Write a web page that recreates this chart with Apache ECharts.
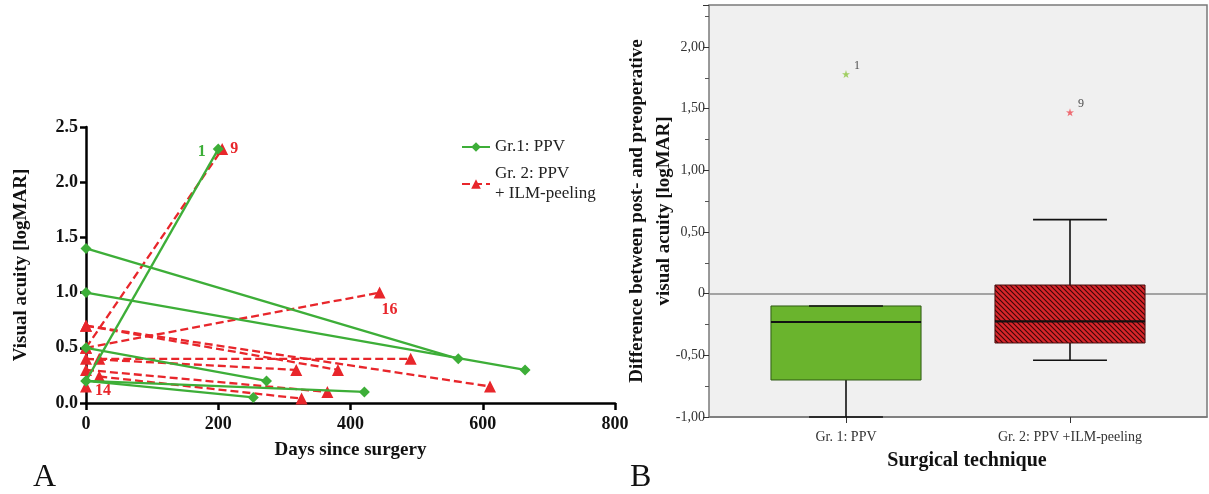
<!DOCTYPE html>
<html>
<head>
<meta charset="utf-8">
<title>Visual acuity after surgery</title>
<script src="https://cdn.jsdelivr.net/npm/echarts@6/dist/echarts.min.js"></script>
<style>
  html, body { margin: 0; padding: 0; background: #fff; }
  #chart { width: 1209px; height: 494px; }
</style>
</head>
<body>
<div id="chart"></div>
<script>
// Panel A: per eye, [days] and [logMAR] at first and last visit
const ppvDays = [[0, 200], [0, 563], [0, 664], [0, 273], [0, 421], [0, 253]]
const ppvAcuity = [[0.2, 2.3], [1.4, 0.4], [1.0, 0.3], [0.5, 0.2], [0.2, 0.1], [0.2, 0.05]]
const ppvCase = ['1', '', '', '', '', '']

const ilmDays = [[0, 206], [0, 444], [0, 611], [0, 381], [20, 491], [0, 318], [0, 365], [20, 326], [0]]
const ilmAcuity = [[0.5, 2.3], [0.5, 1.0], [0.7, 0.15], [0.7, 0.3], [0.4, 0.4], [0.4, 0.3], [0.3, 0.1], [0.24, 0.04], [0.15]]
const ilmCase = ['9', '16', '', '', '', '', '', '', '14']

const daysTicks = [0, 200, 400, 600, 800]
const acuityTicks = [0, 0.5, 1.0, 1.5, 2.0, 2.5]

// Panel B: post - pre logMAR, [min, Q1, median, Q3, max]
const techniques = ['Gr. 1: PPV', 'Gr. 2: PPV +ILM-peeling']
const changeBox = [[-1.0, -0.70, -0.23, -0.10, -0.10], [-0.54, -0.40, -0.225, 0.07, 0.60]]
const outlierValue = [1.78, 1.47]
const outlierCase = ['1', '9']

const SERIF = '"Liberation Serif", "Times New Roman", serif'
const GREEN = '#3dae38'
const RED = '#e8262b'
const PPV_NAME = 'Gr.1: PPV'
const ILM_NAME = 'Gr. 2: PPV + ILM-peeling'

// where each case number sits next to its last point
const caseLabelPos = {
  '1': { position: 'left', offset: [-2, 3] },
  '9': { position: 'right', offset: [-3, 0] },
  '16': { position: 'bottom', offset: [10, -2] },
  '14': { position: 'right', offset: [-2, 4] }
}

// diagonal hatching for the second box
function makeHatch() {
  const c = document.createElement('canvas')
  c.width = 5
  c.height = 5
  const ctx = c.getContext('2d')
  ctx.fillStyle = '#d8262b'
  ctx.fillRect(0, 0, 5, 5)
  ctx.strokeStyle = 'rgba(30,0,0,0.85)'
  ctx.lineWidth = 1.1
  ctx.beginPath()
  ctx.moveTo(-1, -1); ctx.lineTo(6, 6)
  ctx.moveTo(-1, 4); ctx.lineTo(1, 6)
  ctx.moveTo(4, -1); ctx.lineTo(6, 1)
  ctx.stroke()
  return c
}
const boxFill = ['#6ab42d', { image: makeHatch(), repeat: 'repeat' }]
const boxEdge = ['#2f5a14', '#4a1010']
const starColor = ['#8cc63f', '#ee4a52']

function lineSeries(name, days, acuity, cases, color, symbol, symbolSize, dashed) {
  return days.map((d, i) => {
    const pts = d.map((x, j) => [x, acuity[i][j]])
    const data = pts.map((p, j) => {
      if (j === pts.length - 1 && cases[i]) {
        const lp = caseLabelPos[cases[i]]
        return {
          value: p,
          label: {
            show: true, formatter: cases[i], position: lp.position, offset: lp.offset,
            color, fontFamily: SERIF, fontWeight: 'bold', fontSize: 16
          }
        }
      }
      return p
    })
    return {
      type: 'line', name, xAxisIndex: 0, yAxisIndex: 0,
      data, symbol, symbolSize, color,
      lineStyle: { width: 2.3, type: dashed ? [8, 4] : 'solid', color },
      itemStyle: { color },
      z: dashed ? 2 : 3,
      animation: false
    }
  })
}

const chart = echarts.init(document.getElementById('chart'))

const option = {
  animation: false,
  textStyle: { fontFamily: SERIF },
  grid: [
    { left: 86, top: 127, width: 529, height: 276 },
    {
      left: 709, top: 5, width: 498, height: 412, show: true,
      backgroundColor: '#f0f0f0', borderColor: '#7a7a7a', borderWidth: 1.5
    }
  ],
  legend: {
    data: [PPV_NAME, ILM_NAME],
    orient: 'vertical', left: 456, top: 132,
    itemWidth: 28, itemHeight: 12, itemGap: 7,
    formatter: n => (n === ILM_NAME ? 'Gr. 2: PPV\n+ ILM-peeling' : n),
    textStyle: { fontFamily: SERIF, fontSize: 17, color: '#222', lineHeight: 20 }
  },
  xAxis: [
    {
      type: 'value', gridIndex: 0, min: daysTicks[0], max: daysTicks[daysTicks.length - 1], interval: 200,
      axisLine: { show: true, lineStyle: { color: '#000', width: 2.5 } },
      axisTick: { show: true, length: 7, lineStyle: { color: '#000', width: 2.5 } },
      axisLabel: { fontFamily: SERIF, fontWeight: 'bold', fontSize: 18, color: '#111', margin: 12 },
      splitLine: { show: false },
      name: 'Days since surgery', nameLocation: 'middle', nameGap: 38,
      nameTextStyle: { fontFamily: SERIF, fontWeight: 'bold', fontSize: 19, color: '#111' }
    },
    {
      // group positions 0 and 1, with some free room either side as in the original
      type: 'value', gridIndex: 1, min: -0.6116, max: 1.6116,
      axisLine: { show: true, onZero: false, lineStyle: { color: '#7a7a7a', width: 1.5 } },
      axisTick: { show: true, length: 6, customValues: [0, 1], lineStyle: { color: '#333' } },
      axisLabel: {
        fontFamily: SERIF, fontSize: 14, color: '#333', margin: 13,
        customValues: [0, 1], formatter: v => techniques[Math.round(v)] || ''
      },
      splitLine: { show: false },
      name: 'Surgical technique', nameLocation: 'middle', nameGap: 34,
      nameTextStyle: { fontFamily: SERIF, fontWeight: 'bold', fontSize: 20, color: '#111', padding: [0, 0, 0, 18] }
    }
  ],
  yAxis: [
    {
      type: 'value', gridIndex: 0, min: acuityTicks[0], max: acuityTicks[acuityTicks.length - 1], interval: 0.5,
      axisLine: { show: true, lineStyle: { color: '#000', width: 2.5 } },
      axisTick: { show: true, length: 6, lineStyle: { color: '#000', width: 2.5 } },
      axisLabel: {
        fontFamily: SERIF, fontWeight: 'bold', fontSize: 18, color: '#111', margin: 8,
        formatter: v => v.toFixed(1)
      },
      splitLine: { show: false },
      name: 'Visual acuity [logMAR]', nameLocation: 'middle', nameGap: 55,
      nameTextStyle: { fontFamily: SERIF, fontWeight: 'bold', fontSize: 19, color: '#111' }
    },
    {
      type: 'value', gridIndex: 1, min: -1, max: 2.34, interval: 0.5,
      axisLine: { show: false, onZero: false },
      axisTick: { show: true, length: 6, lineStyle: { color: '#333' } },
      minorTick: { show: true, splitNumber: 2, length: 4, lineStyle: { color: '#555' } },
      axisLabel: {
        fontFamily: SERIF, fontSize: 14, color: '#333', margin: 4, showMaxLabel: false,
        formatter: v => (v === 0 ? '0' : v.toFixed(2).replace('.', ','))
      },
      splitLine: { show: false },
      name: 'Difference between post- and preoperative\nvisual acuity [logMAR]',
      nameLocation: 'middle', nameGap: 31, nameMoveOverlap: false,
      nameTextStyle: { fontFamily: SERIF, fontWeight: 'bold', fontSize: 19, color: '#111', lineHeight: 27 }
    }
  ],
  graphic: [
    { type: 'text', left: 33, top: 462, style: { text: 'A', font: '32px ' + SERIF, fill: '#111' } },
    { type: 'text', left: 630, top: 462, style: { text: 'B', font: '32px ' + SERIF, fill: '#111' } }
  ],
  series: [
    ...lineSeries(ILM_NAME, ilmDays, ilmAcuity, ilmCase, RED, 'triangle', 12, true),
    ...lineSeries(PPV_NAME, ppvDays, ppvAcuity, ppvCase, GREEN, 'diamond', 11, false),
    {
      type: 'custom', xAxisIndex: 1, yAxisIndex: 1, z: 4,
      data: changeBox.map((b, i) => [i].concat(b)),
      encode: { x: 0, y: [1, 2, 3, 4, 5] },
      renderItem(params, api) {
        const i = api.value(0)
        const unit = api.size([1, 0])[0]
        const half = unit * 0.335
        const cap = unit * 0.165
        const at = k => api.coord([i, api.value(k)])
        const pMin = at(1), pQ1 = at(2), pMed = at(3), pQ3 = at(4), pMax = at(5)
        const cx = pMin[0]
        const black = { stroke: '#111', lineWidth: 1.6 }
        return {
          type: 'group',
          children: [
            { type: 'line', shape: { x1: cx, y1: pQ1[1], x2: cx, y2: pMin[1] }, style: black },
            { type: 'line', shape: { x1: cx, y1: pQ3[1], x2: cx, y2: pMax[1] }, style: black },
            { type: 'line', shape: { x1: cx - cap, y1: pMin[1], x2: cx + cap, y2: pMin[1] }, style: black },
            {
              type: 'rect',
              shape: { x: cx - half, y: pQ3[1], width: half * 2, height: pQ1[1] - pQ3[1] },
              style: { fill: boxFill[i], stroke: boxEdge[i], lineWidth: 1 }
            },
            { type: 'line', shape: { x1: cx - cap, y1: pMax[1], x2: cx + cap, y2: pMax[1] }, style: black },
            { type: 'line', shape: { x1: cx - half, y1: pMed[1], x2: cx + half, y2: pMed[1] }, style: { stroke: '#111', lineWidth: 2.2 } }
          ]
        }
      }
    },
    {
      type: 'scatter', xAxisIndex: 1, yAxisIndex: 1, z: 5,
      symbol: 'path://M0,-10 L2.2,-3 L9.5,-3.1 L3.6,1.2 L5.9,8.1 L0,3.8 L-5.9,8.1 L-3.6,1.2 L-9.5,-3.1 L-2.2,-3 Z',
      symbolSize: 8,
      data: outlierValue.map((v, i) => ({
        value: [i, v],
        itemStyle: { color: starColor[i] },
        label: {
          show: true, formatter: outlierCase[i], position: 'right', offset: [-1, -8],
          fontFamily: SERIF, fontSize: 12, color: '#222'
        }
      })),
      markLine: {
        silent: true, symbol: 'none', z: 1,
        label: { show: false },
        lineStyle: { color: '#8a8a8a', width: 1.5, type: 'solid' },
        data: [{ yAxis: 0 }]
      }
    }
  ]
}

chart.setOption(option)
window.addEventListener('resize', () => chart.resize())
</script>
</body>
</html>
